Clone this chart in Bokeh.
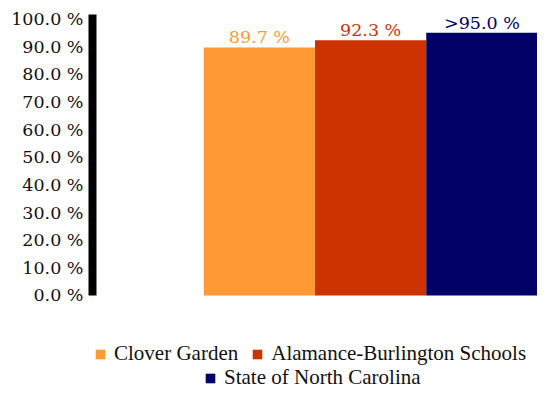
from bokeh.plotting import figure
from bokeh.models import (ColumnDataSource, Range1d, LinearAxis, FixedTicker,
                          PrintfTickFormatter, Legend, LegendItem)
from bokeh.embed import file_html
from bokeh.resources import INLINE
from bokeh.core.properties import value

categories = ["Clover Garden", "Alamance-Burlington Schools", "State of North Carolina"]
rates = [89.7, 92.3, 95.0]
rate_labels = ["89.7 %", "92.3 %", ">95.0 %"]
colors = ["#FF9933", "#CC3300", "#000066"]
y_ticks = [0, 10, 20, 30, 40, 50, 60, 70, 80, 90, 100]

AXIS_FONT = "DejaVu Serif"
LEGEND_FONT = "Liberation Serif"
Y_TOP = 101.6
Y_BOTTOM = -34.35   # room below the axis for the legend rows

src = ColumnDataSource(dict(
    x=list(range(len(categories))),
    cat=categories,
    rate=rates,
    label=rate_labels,
    color=colors,
))

p = figure(width=537, height=390, output_backend="svg", toolbar_location=None,
           x_range=Range1d(-1.5, len(categories) - 0.5), y_range=Range1d(Y_BOTTOM, Y_TOP),
           min_border_left=92, min_border_right=0, min_border_top=14,
           min_border_bottom=0)
p.xaxis.visible = False
p.yaxis.visible = False
p.xgrid.visible = False
p.ygrid.visible = False
p.outline_line_color = None

ax = LinearAxis(ticker=FixedTicker(ticks=y_ticks), bounds=(0, Y_TOP),
                formatter=PrintfTickFormatter(format="%.1f %%"))
ax.axis_line_width = 8
ax.axis_line_color = "black"
ax.major_tick_line_color = None
ax.minor_tick_line_color = None
ax.major_tick_out = 0
ax.major_tick_in = 0
ax.major_label_standoff = 9
ax.major_label_text_font = AXIS_FONT
ax.major_label_text_font_size = "17.5px"
ax.major_label_text_color = "#111111"
p.add_layout(ax, "left")

r = p.vbar(x="x", top="rate", bottom=0, width=1.0, source=src,
           fill_color="color", line_color=None)

p.text(x="x", y="rate", text="label", source=src, text_color="color",
       text_align="center", text_baseline="bottom", y_offset=0,
       text_font=value(AXIS_FONT), text_font_size="17.5px")

def make_legend(idx, loc):
    leg = Legend(items=[LegendItem(label=categories[i], renderers=[r], index=i) for i in idx],
                 orientation="horizontal", location=loc)
    leg.label_text_font = LEGEND_FONT
    leg.label_text_font_size = "21px"
    leg.label_text_color = "#111111"
    leg.label_height = 20
    leg.glyph_width = 12
    leg.glyph_height = 12
    leg.label_standoff = 8
    leg.spacing = 13
    leg.padding = 0
    leg.margin = 0
    leg.border_line_color = None
    leg.background_fill_alpha = 0
    return leg

p.add_layout(make_legend([0, 1], (2, 24)))
p.add_layout(make_legend([2], (112, 0)))

open("out.html", "w").write(file_html(p, INLINE))
